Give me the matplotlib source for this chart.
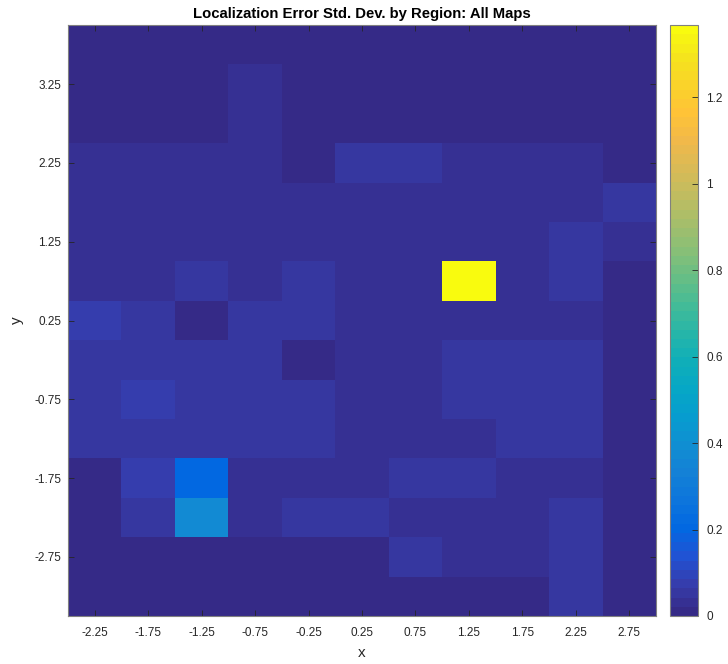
import numpy as np
import matplotlib
matplotlib.use('Agg')
import matplotlib.pyplot as plt
from matplotlib.colors import LinearSegmentedColormap

# cell centres
x_centers = [-2.25, -1.75, -1.25, -0.75, -0.25, 0.25, 0.75, 1.25, 1.75, 2.25, 2.75]
y_centers = [3.75, 3.25, 2.75, 2.25, 1.75, 1.25, 0.75, 0.25,
             -0.25, -0.75, -1.25, -1.75, -2.25, -2.75, -3.25]

# std dev per region, rows listed top (y=3.75) to bottom (y=-3.25)
row_375 = [0.010, 0.010, 0.010, 0.010, 0.010, 0.010, 0.010, 0.010, 0.010, 0.010, 0.010]
row_325 = [0.010, 0.010, 0.010, 0.032, 0.010, 0.010, 0.010, 0.010, 0.010, 0.010, 0.010]
row_275 = [0.010, 0.010, 0.010, 0.032, 0.010, 0.010, 0.010, 0.010, 0.010, 0.010, 0.010]
row_225 = [0.032, 0.032, 0.032, 0.032, 0.010, 0.053, 0.053, 0.032, 0.032, 0.032, 0.010]
row_175 = [0.032, 0.032, 0.032, 0.032, 0.032, 0.032, 0.032, 0.032, 0.032, 0.032, 0.055]
row_125 = [0.032, 0.032, 0.032, 0.032, 0.032, 0.032, 0.032, 0.032, 0.032, 0.053, 0.034]
row_075 = [0.032, 0.032, 0.053, 0.032, 0.053, 0.032, 0.032, 1.367, 0.032, 0.053, 0.010]
row_025 = [0.072, 0.048, 0.015, 0.050, 0.050, 0.032, 0.032, 0.032, 0.032, 0.032, 0.010]
row_m025 = [0.046, 0.046, 0.046, 0.046, 0.015, 0.032, 0.032, 0.053, 0.053, 0.053, 0.010]
row_m075 = [0.046, 0.068, 0.046, 0.046, 0.046, 0.032, 0.032, 0.053, 0.053, 0.053, 0.010]
row_m125 = [0.046, 0.046, 0.046, 0.046, 0.046, 0.032, 0.032, 0.032, 0.053, 0.053, 0.010]
row_m175 = [0.010, 0.068, 0.205, 0.032, 0.032, 0.032, 0.053, 0.053, 0.032, 0.032, 0.010]
row_m225 = [0.010, 0.046, 0.375, 0.032, 0.050, 0.050, 0.032, 0.032, 0.032, 0.053, 0.010]
row_m275 = [0.010, 0.010, 0.010, 0.010, 0.010, 0.010, 0.053, 0.032, 0.032, 0.053, 0.010]
row_m325 = [0.010, 0.010, 0.010, 0.010, 0.010, 0.010, 0.010, 0.010, 0.010, 0.053, 0.010]

grid = np.array([row_375, row_325, row_275, row_225, row_175, row_125, row_075,
                 row_025, row_m025, row_m075, row_m125, row_m175, row_m225,
                 row_m275, row_m325])

# parula-like colormap, 64 levels like matlab
parula_pts = [
    (0, (0.2081, 0.1663, 0.5292)), (1, (0.2116, 0.1898, 0.5777)),
    (2, (0.2123, 0.2138, 0.6270)), (3, (0.2081, 0.2386, 0.6771)),
    (6, (0.1253, 0.3242, 0.8303)), (9, (0.0060, 0.4086, 0.8828)),
    (12, (0.0498, 0.4586, 0.8641)), (15, (0.0779, 0.5040, 0.8384)),
    (18, (0.0641, 0.5570, 0.8240)), (21, (0.0265, 0.6137, 0.8135)),
    (24, (0.0228, 0.6535, 0.7768)), (27, (0.0590, 0.6838, 0.7254)),
    (30, (0.1453, 0.7098, 0.6646)), (33, (0.2586, 0.7317, 0.5954)),
    (36, (0.3953, 0.7459, 0.5244)), (39, (0.5300, 0.7491, 0.4661)),
    (42, (0.6473, 0.7456, 0.4188)), (45, (0.7525, 0.7384, 0.3768)),
    (48, (0.8507, 0.7299, 0.3360)), (51, (0.9450, 0.7261, 0.2886)),
    (54, (0.9990, 0.7653, 0.2164)), (57, (0.9789, 0.8271, 0.1633)),
    (60, (0.9589, 0.8949, 0.1132)), (63, (0.9763, 0.9831, 0.0538)),
]
parula = LinearSegmentedColormap.from_list(
    'parula', [(i / 63, c) for i, c in parula_pts], N=64)

plt.rcParams['font.family'] = ['Liberation Sans', 'DejaVu Sans']

x_edges = np.append(np.array(x_centers) - 0.25, x_centers[-1] + 0.25)
y_edges = np.append(np.array(y_centers) + 0.25, y_centers[-1] - 0.25)

fig = plt.figure(figsize=(7.28, 6.64), dpi=100)
ax = fig.add_axes([0.0934, 0.0723, 0.8077, 0.890])
cax = fig.add_axes([0.9203, 0.0723, 0.0385, 0.890])

mesh = ax.pcolormesh(x_edges, y_edges, grid, cmap=parula,
                     vmin=0, vmax=grid.max(), shading='flat')
ax.set_xlim(x_edges[0], x_edges[-1])
ax.set_ylim(y_edges[-1], y_edges[0])

ax.set_xticks(x_centers)
ax.set_xticklabels([f"{v:.2f}" for v in x_centers])
ax.set_yticks(y_centers[1::2])
ax.set_yticklabels([f"{v:.2f}" for v in y_centers[1::2]])
ax.tick_params(direction='in', top=True, right=True, labelsize=8.5,
               length=4, width=0.6, color='#262626', labelcolor='#262626')
ax.tick_params(axis='x', pad=8)
ax.tick_params(axis='y', pad=5)
for s in ax.spines.values():
    s.set_color('#808080')
    s.set_linewidth(0.8)

ax.set_xlabel('x', fontsize=11, color='#262626', labelpad=5)
ax.set_ylabel('y', fontsize=11, color='#262626', labelpad=7)
ax.set_title('Localization Error Std. Dev. by Region: All Maps',
             fontsize=10.7, fontweight='bold', color='black', pad=5)

cb = fig.colorbar(mesh, cax=cax)
cb.set_ticks([0, 0.2, 0.4, 0.6, 0.8, 1.0, 1.2])
cb.set_ticklabels(['0', '0.2', '0.4', '0.6', '0.8', '1', '1.2'])
cax.tick_params(direction='in', labelsize=8.5, length=4, width=0.6,
                color='#262626', labelcolor='#262626', pad=6)
cb.outline.set_edgecolor('#808080')
cb.outline.set_linewidth(0.8)

fig.savefig('out.png', dpi=100)
